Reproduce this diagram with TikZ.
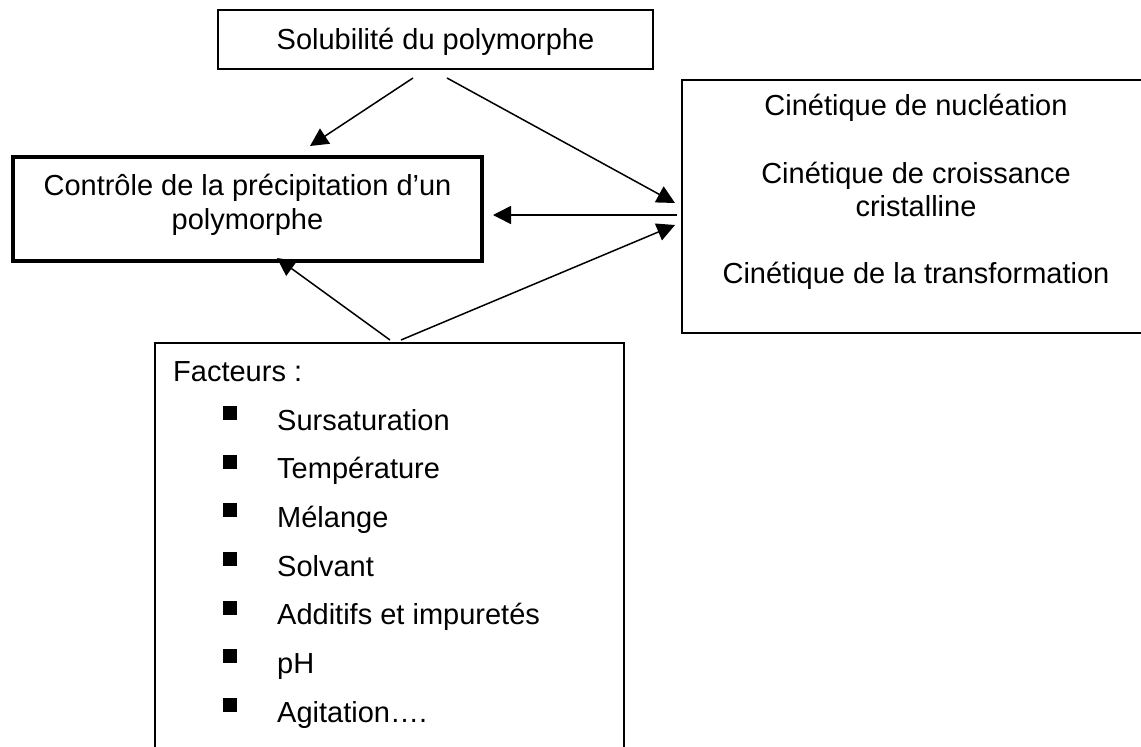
\documentclass[tikz,border=0pt]{standalone}
\usepackage{fontspec}
\setmainfont{Liberation Sans}
\usetikzlibrary{arrows.meta}
\begin{document}
\begin{tikzpicture}[x=1pt,y=-1pt,
  box/.style={draw, line width=1.5pt, rectangle, inner sep=0pt},
  thickbox/.style={draw, line width=4.5pt, rectangle, inner sep=0pt},
  txt/.style={font=\fontsize{29}{33.6}\selectfont, inner sep=0pt, anchor=base},
  txtw/.style={font=\fontsize{29}{33.6}\selectfont, inner sep=0pt, anchor=base west},
  bul/.style={fill=black, rectangle, inner sep=0pt, minimum width=14pt, minimum height=14pt},
  arr/.style={line width=1.5pt, -{Triangle[length=18pt,width=18pt]}}]
\useasboundingbox (0,0) rectangle (1141,747);
\fill[white] (0,0) rectangle (1141,747);
% boxes
\node[box, minimum width=435pt, minimum height=59pt] (sol) at (435.5,39.5) {};
\node[thickbox, minimum width=469pt, minimum height=104pt] (ctrl) at (247.5,209) {};
\node[box, minimum width=468pt, minimum height=253pt] (kin) at (916,206.5) {};
\node[box, minimum width=469pt, minimum height=430pt] (fact) at (389.5,558) {};
% texts
\node[txt] (tsol) at (435.5,49) {Solubilité du polymorphe};
\node[txt] (tc1) at (247.5,195) {Contrôle de la précipitation d’un};
\node[txt] (tc2) at (247.5,229) {polymorphe};
\node[txt] (tk1) at (916,115) {Cinétique de nucléation};
\node[txt] (tk2) at (916,183) {Cinétique de croissance};
\node[txt] (tk3) at (916,216) {cristalline};
\node[txt] (tk4) at (916,283) {Cinétique de la transformation};
\node[txtw] (tf) at (173,381) {Facteurs :};
\foreach \t/\yy [count=\i] in {Sursaturation/430, Température/478.7, Mélange/527.3, Solvant/576, Additifs et impuretés/624.7, pH/673.3, Agitation…./722}{
  \node[bul] (b\i) at (230,\yy-17) {};
  \node[txtw] (f\i) at (277,\yy) {\t};
}
% connector coordinates
\coordinate (s1) at (413,78);
\coordinate (e1) at (310,146);
\coordinate (s2) at (447,78);
\coordinate (e2) at (675,203);
\coordinate (h1) at (677,215);
\coordinate (h2) at (493,215);
\coordinate (fa) at (390,340);
\coordinate (fae) at (277,258);
\coordinate (fb) at (401,340);
\coordinate (fbe) at (675,225);
\draw[arr] (s1) -- (e1);
\draw[arr] (s2) -- (e2);
\draw[arr] (h1) -- (h2);
\draw[arr] (fa) -- (fae);
\draw[arr] (fb) -- (fbe);
\end{tikzpicture}
\end{document}
